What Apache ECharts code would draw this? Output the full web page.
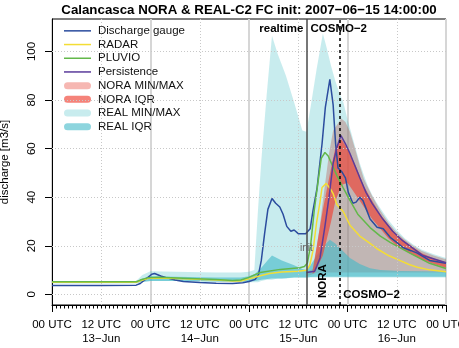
<!DOCTYPE html>
<html><head><meta charset="utf-8">
<script src="https://cdn.jsdelivr.net/npm/echarts@6/dist/echarts.min.js"></script>
<style>html,body{margin:0;padding:0;background:#fff}#c{width:459px;height:348px}</style>
</head><body><div id="c"></div>
<script>
const FONT = '"Liberation Sans", Arial, Helvetica, sans-serif';
const titleText = 'Calancasca NORA & REAL-C2 FC init: 2007\u221206\u221215 14:00:00';
const yName = 'discharge [m3/s]';
// x in hours since 2007-06-13 00 UTC
const xTickHours = [0,12,24,36,48,60,72,84,96];
const xTickLabels = ['00 UTC','12 UTC\n13\u2212Jun','00 UTC','12 UTC\n14\u2212Jun','00 UTC','12 UTC\n15\u2212Jun','00 UTC','12 UTC\n16\u2212Jun','00 UTC'];
const yTicks = [0,20,40,60,80,100];
const dotGridX = [12,36,60,84];
const initHour = 62, cosmoHour = 70;

const gauge = [[0,3.7],[12,3.7],[20.5,3.8],[21.5,4.5],[23,6.5],[24.3,8.3],[25,8.6],[26.5,7.6],[28,6.8],[30,5.9],[32,5.3],[36,4.9],[40,4.6],[44,4.5],[46.5,4.8],[48,5.3],[49.5,6.2],[50.3,8],[51,14],[51.8,25],[52.6,35],[53.6,39.5],[54.5,37.5],[55.5,36],[56.3,33],[57.2,28],[58.2,26],[59,26.5],[60,25],[61.8,25],[62.9,27],[63.6,34.6],[64.6,44],[65.8,62],[66.6,77],[67.7,88.5],[68.5,78],[69.1,62],[69.7,52],[70.6,50.5],[71.5,48],[72.2,42],[73.3,37.5],[74.1,38],[75,40],[75.8,38.5],[76.6,35],[77.5,31],[79.2,27.6],[80.7,27],[82.4,23.5],[84,21.4],[85.5,19.3],[87.5,18],[89,17],[92,14],[96,12.8]];
const radar = [[0,5],[20.5,5],[21.5,5.6],[23.5,6.6],[26,6.8],[32,6.4],[40,5.9],[44,5.5],[46,5.5],[48,6.4],[50.5,7.6],[53,8.6],[56,9.2],[60,9.5],[62,9.9],[62.8,12],[63.6,18],[64.5,30],[65.3,38],[65.8,44],[66.8,45.7],[67.8,43.5],[68.5,41.5],[69.4,37],[71,34],[72.6,28.5],[75,24],[77.5,21],[79.2,18.8],[82,16],[84,14.5],[87,12.3],[89,11.2],[92,10.1],[96,9.3]];
const pluvio = [[0,5.2],[20.5,5.2],[21.5,5.9],[23.5,6.9],[26,7.1],[32,6.7],[40,6.1],[44,5.7],[46,5.9],[48,7],[50.7,9],[55.6,10.3],[60.4,11],[61.5,11.5],[62.2,12.8],[63,20],[63.9,34.6],[64.8,46],[65.6,56],[66.5,58.4],[67.3,57],[67.8,55],[69.4,49],[70.9,44],[72.5,39],[74.5,33],[77.5,27.5],[80,24],[82.4,21.4],[87.2,17],[92,12.8],[96,10.7]];
const persistence = [[62,9],[64,9.5],[64.6,12],[65.3,15],[66.5,28],[67.5,40],[68.5,54],[69.5,61],[70.4,65.4],[71.5,62],[72.6,58],[75,48],[76.5,42],[78,37.5],[80.6,31],[83,26],[85.5,22],[90.4,16],[96,13]];

// bands: [hour, low, high]
const realMinMax = [[0,4.5,5.5],[20.5,4.5,5.5],[22,5,8],[24,5.5,9.5],[30,5.5,9.3],[40,5.2,9],[46,5,9],[48,5,9.3],[49.3,5,10],[50.2,5,35],[51,5.5,55],[52.3,6,82],[53.6,6,106.5],[55,6.5,99],[57,6.5,90],[59,7,79],[61,7,67.5],[62,7,67],[63,7,77],[64.5,7,93],[66,7,107.4],[67,7,101],[68,7,94],[69,7,88],[70,7,83],[71,7,79],[72,7,72],[73,7,66],[74,7,60],[75,7,54],[76,7,49],[77,7,44.5],[78,7,41],[79,7,38],[80,7,35.5],[82,7,30.5],[84,7,26.5],[86,7,23],[88,7,20.5],[90,7,18.5],[93,7,16.5],[96,7,15]];
const realIQR = [[0,4.8,5.2],[20.5,4.8,5.2],[22,5.2,6.5],[24,5.5,7.5],[30,5.5,7.3],[40,5.3,7],[46,5.2,7],[48,5.3,7.5],[49.5,5.5,8.5],[51,6,11],[52.5,6.3,14],[53.6,6.5,16],[56,6.5,14],[59,7,12],[61,7,10.5],[62,7,10],[63,7.2,12],[64.5,7.3,16],[66,7.3,19.5],[67.7,7.3,22.5],[69,7.3,21],[70.5,7.3,18.5],[72.6,7.3,15],[75,7.3,12.5],[77.5,7.3,10.8],[80,7.3,10],[85,7.3,9.6],[96,7.3,9.4]];
const noraMinMax = [[62,7.5,9],[63,8,10],[63.7,8.5,10.5],[65,9,25],[66.5,9,45],[67.5,9,58],[68.5,9,67.5],[70.5,9,72.4],[71.5,9,71],[72.6,9,67],[74,9,59],[75,9,53],[76,9,47.5],[78,9,40.5],[80,9,34.5],[82,9,29.5],[84,9,25.5],[86,9,22.5],[88,9,20],[90,9,18],[93,9,16],[96,9,14.5]];
const noraIQR = [[63.5,8.5,10],[64,9,15],[66,16,35],[68,30,52],[69,38,60],[70.5,45,64],[72,46,60],[74,41,53],[76,36,44.5],[78,31,38.5],[80,27,33],[82,23,28.5],[84,20,24.5],[87,17,20.5],[90,14.5,17],[93,12.5,14.8],[96,11,13.2]];

const C = {
  gauge:'#2b4c9e', radar:'#f3dd35', pluvio:'#63b84a', pers:'#5b3b9b',
  realMM:'rgba(35,179,187,0.25)', realIQR:'rgba(65,185,200,0.6)',
  noraMM:'rgba(235,95,85,0.45)', noraIQR:'rgba(240,65,50,0.65)'
};

// band polygon drawn through the axes' scales (api.coord)
function band(name, data, color, z) {
  return {
    name:name, type:'custom', silent:true, z:z, clip:true,
    itemStyle:{color:color},
    encode:{x:0, y:[1,2]},
    data:data,
    renderItem:function(params, api){
      if (params.dataIndex !== 0) return null;
      const upper = data.map(d => api.coord([d[0], d[2]]));
      const lower = data.map(d => api.coord([d[0], d[1]])).reverse();
      return {type:'polygon', shape:{points:upper.concat(lower)}, style:{fill:color, stroke:null}};
    }
  };
}
function line(name, data, color, z) {
  return {name:name, type:'line', data:data, symbol:'none', showSymbol:false, silent:true, lineStyle:{color:color, width:1.5}, itemStyle:{color:color}, z:z};
}
const capsule = 'path://M3.5,0 L23.5,0 A3.5,3.5 0 0 1 23.5,7 L3.5,7 A3.5,3.5 0 0 1 3.5,0 Z';
const thinLine = 'path://M0,0 L27,0 L27,1.5 L0,1.5 Z';

const chart = echarts.init(document.getElementById('c'), null, {renderer:'canvas'});
const option = {
  animation:false,
  backgroundColor:'#fff',
  textStyle:{fontFamily:FONT},
  title:{text:titleText, left:249, top:4, padding:0, textAlign:'center', textStyle:{fontFamily:FONT, fontSize:13.3, fontWeight:'bold', color:'#000'}},
  grid:{left:52, right:13, top:19, bottom:43, outerBoundsMode:'none', containLabel:false, show:true, borderColor:'#000', borderWidth:1, backgroundColor:'transparent'},
  legend:{
    orient:'vertical', left:64, top:24, padding:0, itemGap:0, itemWidth:27, itemHeight:7,
    symbolKeepAspect:true,
    textStyle:{fontFamily:FONT, fontSize:11.5, color:'#111', lineHeight:13.7, padding:[0,0,0,2]},
    selectedMode:false,
    data:[
      {name:'Discharge gauge', icon:thinLine, itemStyle:{color:C.gauge}},
      {name:'RADAR', icon:thinLine, itemStyle:{color:C.radar}},
      {name:'PLUVIO', icon:thinLine, itemStyle:{color:C.pluvio}},
      {name:'Persistence', icon:thinLine, itemStyle:{color:C.pers}},
      {name:'NORA MIN/MAX', icon:capsule, itemStyle:{color:C.noraMM}},
      {name:'NORA IQR', icon:capsule, itemStyle:{color:C.noraIQR}},
      {name:'REAL MIN/MAX', icon:capsule, itemStyle:{color:C.realMM}},
      {name:'REAL IQR', icon:capsule, itemStyle:{color:C.realIQR}}
    ]
  },
  xAxis:{
    type:'value', min:0, max:96, interval:24,
    axisLine:{show:true, onZero:false, lineStyle:{color:'#000', width:1}},
    axisTick:{show:true, length:7, lineStyle:{color:'#000'}},
    minorTick:{show:true, splitNumber:24, length:3.5, lineStyle:{color:'#000'}},
    axisLabel:{customValues:xTickHours, margin:13, fontSize:11.5, lineHeight:14, color:'#000', fontFamily:FONT,
      formatter:function(v){ const i = xTickHours.indexOf(v); return i>=0 ? xTickLabels[i] : ''; }},
    splitLine:{show:true, lineStyle:{color:'#d6d6d6', width:2}},
    minorSplitLine:{show:false}
  },
  yAxis:{
    type:'value', min:-4.36, max:113.36,
    name:yName, nameLocation:'middle', nameGap:41, nameRotate:90,
    nameTextStyle:{fontFamily:FONT, fontSize:11.5, color:'#000'},
    axisLine:{show:true, onZero:false, lineStyle:{color:'#000', width:1}},
    axisTick:{show:true, customValues:yTicks, length:7, lineStyle:{color:'#000'}},
    axisLabel:{customValues:yTicks, rotate:90, margin:14, fontSize:11.5, color:'#000', fontFamily:FONT},
    splitLine:{show:false}
  },
  series:[
    {name:'grid', type:'line', data:[], silent:true, z:1,
      markLine:{silent:true, symbol:['none','none'], label:{show:false}, animation:false,
        lineStyle:{color:'#c8c8c8', type:[1,2], width:1},
        data: yTicks.map(v=>({yAxis:v})).concat(dotGridX.map(v=>({xAxis:v})))}},
    band('NORA MIN/MAX', noraMinMax, C.noraMM, 2),
    band('REAL MIN/MAX', realMinMax, C.realMM, 2),
    band('REAL IQR', realIQR, C.realIQR, 2),
    band('NORA IQR', noraIQR, C.noraIQR, 2),
    line('Discharge gauge', gauge, C.gauge, 3),
    line('RADAR', radar, C.radar, 3),
    line('PLUVIO', pluvio, C.pluvio, 3),
    line('Persistence', persistence, C.pers, 3),
    {name:'vlines', type:'line', data:[], silent:true, z:5,
      markLine:{silent:true, symbol:['none','none'], label:{show:false}, animation:false,
        data:[
          {xAxis:initHour, lineStyle:{color:'#4a4a4a', width:1.5, type:'solid'}},
          {xAxis:cosmoHour, lineStyle:{color:'#000', width:1.5, type:[3,3]}}
        ]}}
  ]
};
chart.setOption(option);

const px = (h, v) => chart.convertToPixel({gridIndex:0}, [h, v]);
const pInit = px(initHour, 19);
const pCos = px(cosmoHour, 0);
const pNora = px((initHour + cosmoHour) / 2, 5.5);
const topY = 29;
const bold = 'bold 11.5px ' + FONT;
chart.setOption({graphic:[
  {type:'text', z:10, style:{text:'realtime', x:pInit[0]-3, y:topY, font:bold, fill:'#000', textAlign:'right', textVerticalAlign:'middle', verticalAlign:'middle'}},
  {type:'text', z:10, style:{text:'COSMO\u22122', x:pInit[0]+4, y:topY, font:bold, fill:'#000', textAlign:'left', textVerticalAlign:'middle', verticalAlign:'middle'}},
  {type:'text', z:10, x:pNora[0], y:pNora[1], rotation:Math.PI/2, style:{text:'NORA', x:0, y:0, font:bold, fill:'#000', textAlign:'center', textVerticalAlign:'middle', verticalAlign:'middle'}},
  {type:'text', z:10, style:{text:'COSMO\u22122', x:pCos[0]+4, y:pCos[1], font:bold, fill:'#000', textAlign:'left', textVerticalAlign:'middle', verticalAlign:'middle'}},
  {type:'text', z:10, style:{text:'init', x:pInit[0], y:pInit[1], font:'10px ' + FONT, fill:'#666', textAlign:'center', textVerticalAlign:'middle', verticalAlign:'middle'}}
]});
</script>
</body></html>
